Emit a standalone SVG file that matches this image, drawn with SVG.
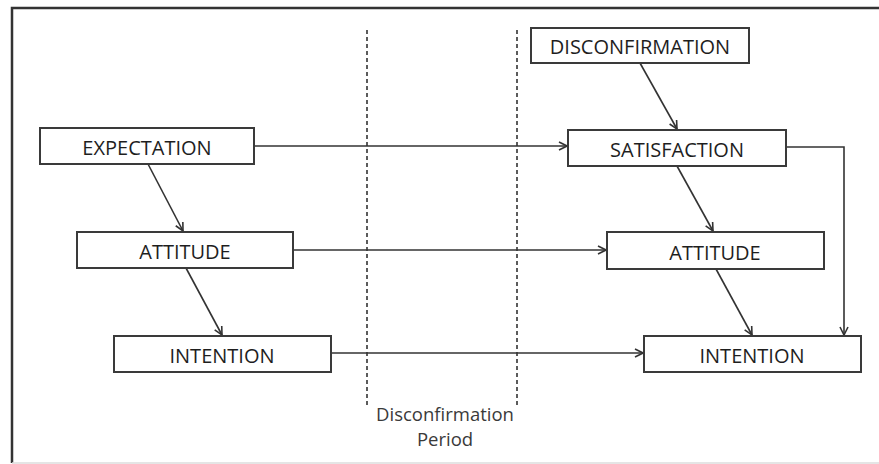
<svg xmlns="http://www.w3.org/2000/svg" width="879" height="464" viewBox="0 0 879 464">
  <style>
    .box { fill: #ffffff; stroke: #3a3a3a; stroke-width: 2; }
    .label { font-family: "Open Sans", "Liberation Sans", sans-serif; font-size: 20px; fill: #1e1e1e; text-anchor: middle; }
    .note { font-family: "Open Sans", "Liberation Sans", sans-serif; font-size: 18.5px; fill: #3a3a3a; text-anchor: middle; }
    .edge { fill: none; stroke: #333333; stroke-width: 1.6; marker-end: url(#arrow); }
    .divider { stroke: #333333; stroke-width: 1.6; stroke-dasharray: 4 3; }
  </style>
  <defs>
    <marker id="arrow" viewBox="0 0 10 10" refX="9" refY="5" markerWidth="10" markerHeight="10" markerUnits="userSpaceOnUse" orient="auto">
      <path d="M1,1 L9,5 L1,9" fill="none" stroke="#333333" stroke-width="1.6"/>
    </marker>
  </defs>

  <rect width="879" height="464" fill="#ffffff"/>

  <!-- outer frame -->
  <g id="frame">
    <path d="M12,463 L12,8 L879,8" fill="none" stroke="#333333" stroke-width="2.5"/>
    <line x1="12" y1="463" x2="879" y2="463" stroke="#dddddd" stroke-width="1.5"/>
  </g>

  <!-- disconfirmation period markers -->
  <g id="period">
    <line class="divider" x1="367" y1="30" x2="367" y2="406"/>
    <line class="divider" x1="517" y1="30" x2="517" y2="406"/>
    <text class="note" x="445" y="421">Disconfirmation</text>
    <text class="note" x="445" y="446">Period</text>
  </g>

  <!-- connectors -->
  <g id="connectors">
    <line class="edge" x1="254" y1="146" x2="567" y2="146"/>
    <line class="edge" x1="640" y1="63" x2="677" y2="129"/>
    <path class="edge" d="M786,147 L844,147 L844,335"/>
    <line class="edge" x1="148" y1="164" x2="183" y2="231"/>
    <line class="edge" x1="186" y1="268" x2="222" y2="335"/>
    <line class="edge" x1="293" y1="250" x2="606" y2="250"/>
    <line class="edge" x1="331" y1="353" x2="643" y2="353"/>
    <line class="edge" x1="677" y1="166" x2="713" y2="231"/>
    <line class="edge" x1="716" y1="269" x2="752" y2="335"/>
  </g>

  <g id="expectation">
    <rect class="box" x="40" y="128" width="214" height="36"/>
    <text class="label" x="147" y="155">EXPECTATION</text>
  </g>
  <g id="attitude-before">
    <rect class="box" x="77" y="232" width="216" height="36"/>
    <text class="label" x="185" y="259">ATTITUDE</text>
  </g>
  <g id="intention-before">
    <rect class="box" x="114" y="336" width="217" height="36"/>
    <text class="label" x="222" y="363">INTENTION</text>
  </g>
  <g id="disconfirmation">
    <rect class="box" x="531" y="28" width="218" height="35"/>
    <text class="label" x="640" y="54">DISCONFIRMATION</text>
  </g>
  <g id="satisfaction">
    <rect class="box" x="568" y="130" width="218" height="36"/>
    <text class="label" x="677" y="157">SATISFACTION</text>
  </g>
  <g id="attitude-after">
    <rect class="box" x="607" y="232" width="217" height="37"/>
    <text class="label" x="715" y="260">ATTITUDE</text>
  </g>
  <g id="intention-after">
    <rect class="box" x="644" y="336" width="217" height="36"/>
    <text class="label" x="752" y="363">INTENTION</text>
  </g>
</svg>
